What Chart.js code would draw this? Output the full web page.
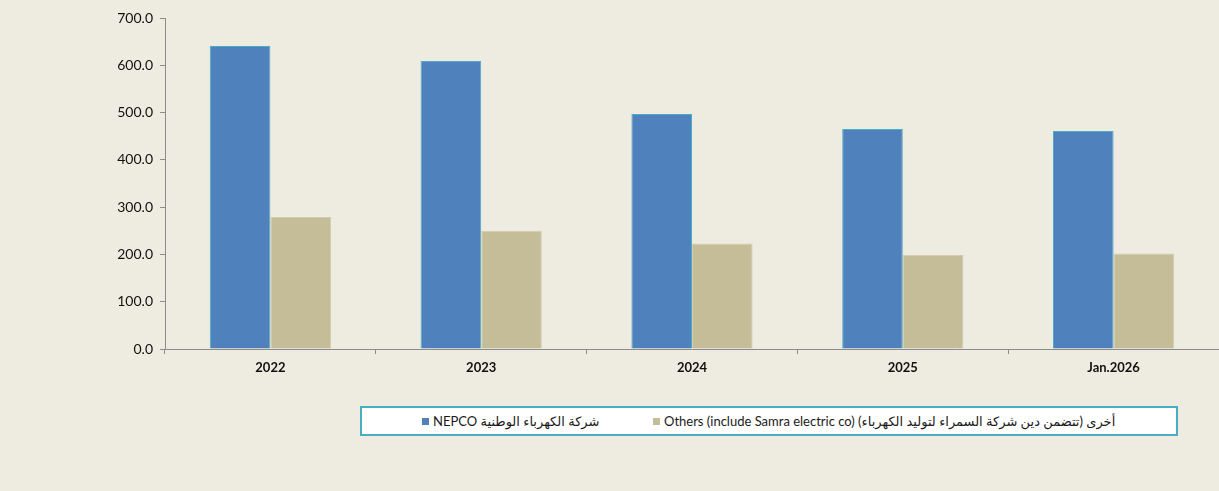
<!DOCTYPE html>
<html>
<head>
<meta charset="utf-8">
<script src="https://cdn.jsdelivr.net/npm/chart.js@4/dist/chart.umd.min.js"></script>
<style>
  html, body { margin: 0; padding: 0; background: #EEEBE0; }
  #wrap { position: relative; width: 1219px; height: 491px; }
  #legend {
    position: absolute; left: 360px; top: 406px; width: 814px; height: 26px;
    background: #ffffff; border: 2px solid #4BACC6;
    font-family: Lato, "DejaVu Sans", sans-serif; font-size: 13px; color: #1a1a1a;
  }
  #legend .item { position: absolute; top: 0; height: 26px; line-height: 26px; white-space: nowrap; }
  #legend .box { display: inline-block; width: 7px; height: 7px; vertical-align: middle; margin-right: 4px; margin-top: -2px; }
  #legend .txt { unicode-bidi: isolate; }
</style>
</head>
<body>
<div id="wrap">
  <canvas id="chartViz" width="1219" height="491"></canvas>
  <div id="legend"></div>
</div>
<script>
var categories = ["2022", "2023", "2024", "2025", "Jan.2026"];
var nepcoValues = [641, 609, 497, 465, 461];
var otherValues = [279, 250, 223, 199, 202];
var seriesLabels = [
    "شركة الكهرباء الوطنية NEPCO",
    "أخرى (تتضمن دين شركة السمراء لتوليد الكهرباء) Others (include Samra electric co)"
];
var yTicks = [0, 100, 200, 300, 400, 500, 600, 700];

var axisColor = "#8c8c8c";
var fontFamily = "Lato, 'DejaVu Sans', sans-serif";

function buildLegend(chart){
    var legend = document.getElementById("legend");
    var offsets = [60, 291];
    chart.data.datasets.forEach(function(ds, i){
        var item = document.createElement("span");
        item.className = "item";
        item.style.left = offsets[i] + "px";
        var box = document.createElement("span");
        box.className = "box";
        box.style.background = ds.backgroundColor;
        var txt = document.createElement("span");
        txt.className = "txt";
        txt.dir = "rtl";
        txt.textContent = ds.label;
        item.appendChild(box);
        item.appendChild(txt);
        legend.appendChild(item);
    });
}

window.onload = function(){
    var context = document.getElementById("chartViz").getContext("2d");
    var config = {
        type : "bar",
        data : {
            labels : categories,
            datasets : [
                {
                    label : seriesLabels[0],
                    data : nepcoValues,
                    backgroundColor : "#4F81BD",
                    borderColor : "#4BACC6",
                    borderWidth : 1
                },
                {
                    label : seriesLabels[1],
                    data : otherValues,
                    backgroundColor : "#C4BD97",
                    borderColor : "#D3CDB0",
                    borderWidth : 1
                }
            ]
        },
        options : {
            responsive : false,
            animation : false,
            layout : { padding : { top : 18, left : 0, right : 0, bottom : 0 } },
            datasets : { bar : { categoryPercentage : 0.575, barPercentage : 1.0 } },
            plugins : {
                legend : { display : false },
                tooltip : { enabled : false }
            },
            scales : {
                x : {
                    grid : { offset : true, drawOnChartArea : false, drawTicks : true, tickLength : 5, color : axisColor },
                    border : { color : axisColor, width : 1 },
                    ticks : { color : "#111", padding : 6, font : { family : fontFamily, size : 13, weight : "bold" } },
                    afterFit : function(scale){ scale.height = 142; }
                },
                y : {
                    min : 0,
                    max : 700,
                    afterBuildTicks : function(scale){
                        scale.ticks = yTicks.map(function(v){ return { value : v }; });
                    },
                    grid : { drawOnChartArea : false, drawTicks : true, tickLength : 5, color : axisColor },
                    border : { color : axisColor, width : 1 },
                    ticks : {
                        color : "#111",
                        padding : 7,
                        font : { family : fontFamily, size : 14 },
                        callback : function(v){ return Number(v).toFixed(1); }
                    },
                    afterFit : function(scale){ scale.width = 165; }
                }
            }
        }
    };
    var chart = new Chart(context, config);
    buildLegend(chart);
};
</script>
</body>
</html>
